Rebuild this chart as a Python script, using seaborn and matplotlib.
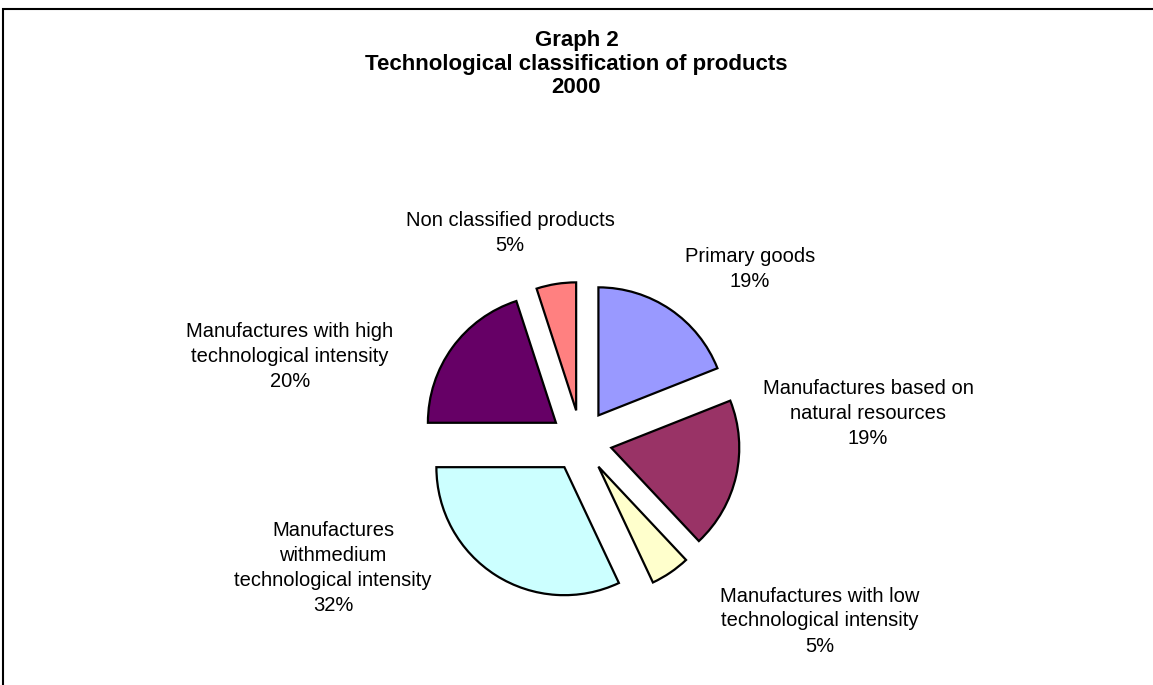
import matplotlib
matplotlib.use("Agg")
import matplotlib.pyplot as plt
import seaborn as sns
from matplotlib.patches import Rectangle

# data (shares of 2000 exports, %)
categories = [
    "Primary goods",
    "Manufactures based on\nnatural resources",
    "Manufactures with low\ntechnological intensity",
    "Manufactures\nwithmedium\ntechnological intensity",
    "Manufactures with high\ntechnological intensity",
    "Non classified products",
]
shares = [19, 19, 5, 32, 20, 5]
colors = ["#9999FF", "#993366", "#FFFFCC", "#CCFFFF", "#660066", "#FF8080"]

# label centres in pixels (x, y from top), same order as categories
label_pos = [(750, 269), (868, 413), (820, 621), (333, 568), (290, 356), (510, 233)]

sns.set_theme(style="white")
plt.rcParams["font.family"] = ["Liberation Sans", "DejaVu Sans"]

W, H = 1153, 685
fig = plt.figure(figsize=(W / 100, H / 100), dpi=100)
ax = fig.add_axes([0, 0, 1, 1])
ax.set_xlim(0, W)
ax.set_ylim(0, H)
ax.set_aspect("equal")
ax.axis("off")

# chart frame (left + top edges visible)
fig.patches.append(Rectangle((3 / W, -0.5), 2, 1.5 - 9 / H, transform=fig.transFigure,
                             fill=False, edgecolor="black", linewidth=1.5))

ax.pie(shares, colors=colors, startangle=90, counterclock=False,
       center=(581, H - 441), radius=128, explode=[31] * len(shares),
       wedgeprops=dict(edgecolor="black", linewidth=1.6), frame=False)
ax.set_xlim(0, W)
ax.set_ylim(0, H)

for cat, val, (lx, ly) in zip(categories, shares, label_pos):
    ax.text(lx, H - ly, f"{cat}\n{val}%", ha="center", va="center",
            fontsize=14.5, linespacing=1.4, color="black")

ax.text(W / 2, H - 64, "Graph 2\nTechnological classification of products\n2000",
        ha="center", va="center", fontsize=16, fontweight="bold",
        linespacing=1.15, color="black")

fig.savefig("out.png", dpi=100)
